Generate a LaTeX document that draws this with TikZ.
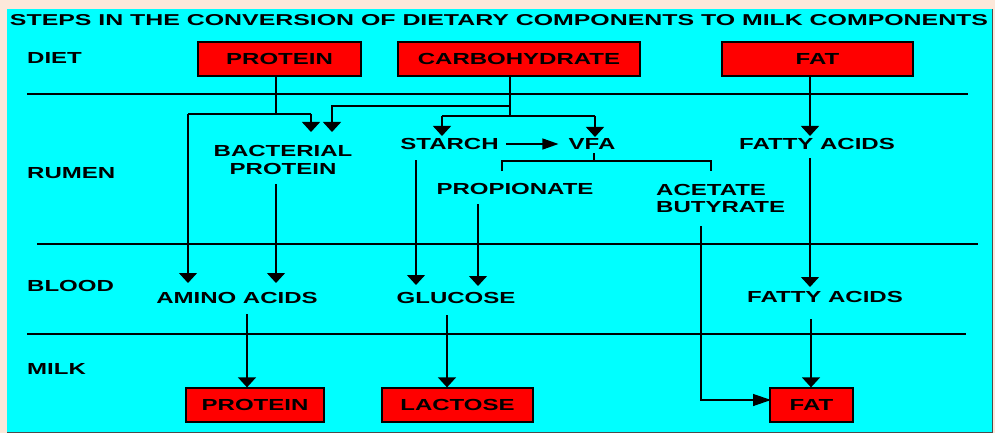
\documentclass[tikz,border=0pt]{standalone}
\usepackage{fontspec}
\setmainfont{Liberation Sans}
\usetikzlibrary{arrows.meta}
\definecolor{bgpeach}{RGB}{252,232,218}
\definecolor{bgcyan}{RGB}{0,255,255}
\definecolor{boxred}{RGB}{255,0,0}
\newcommand\wide[1]{\scalebox{1.5}[1]{#1}}
\begin{document}
\begin{tikzpicture}[x=1pt,y=-1pt,
  lbl/.style={inner sep=0pt, font=\fontsize{16}{17.5}\selectfont\bfseries},
  redbox/.style={lbl, draw=black, line width=1.3pt, fill=boxred, minimum height=34pt},
  conn/.style={line width=1.3pt},
  sepline/.style={line width=1.2pt},
  arr/.style={conn, -{Triangle[width=18pt,length=10pt]}},
  harr/.style={conn, -{Triangle[width=11pt,length=16pt]}},
  farr/.style={conn, -{Triangle[width=12pt,length=18pt]}},
]
\useasboundingbox (0,0) rectangle (995,433);
\fill[bgpeach] (0,0) rectangle (995,433);
\fill[bgcyan] (7,9) rectangle (993,432.5);
\draw[line width=1pt, black!70] (992.5,9) -- (992.5,432.5) -- (7,432.5);

% title
\node[lbl] (title) at (499,20) {\resizebox{978pt}{11pt}{STEPS IN THE CONVERSION OF DIETARY COMPONENTS TO MILK COMPONENTS}};

% section labels
\node[lbl, anchor=west] (diet) at (27,58) {\wide{DIET}};
\node[lbl, anchor=west] (rumen) at (27,173) {\wide{RUMEN}};
\node[lbl, anchor=west] (blood) at (27,286) {\wide{BLOOD}};
\node[lbl, anchor=west] (milk) at (27,369) {\wide{MILK}};

% separators
\draw[sepline] (27,94) -- (968,94);
\draw[sepline] (37,244) -- (978,244);
\draw[sepline] (27,334) -- (966,334);

% diet boxes
\node[redbox, minimum width=163pt] (ptop) at (279.5,59) {\wide{PROTEIN}};
\node[redbox, minimum width=242pt] (carb) at (519,59) {\wide{CARBOHYDRATE}};
\node[redbox, minimum width=191pt] (fat) at (817.5,59) {\wide{FAT}};

% rumen
\node[lbl, anchor=base] (bact) at (283,157) {\wide{\begin{tabular}[t]{@{}c@{}}BACTERIAL\\PROTEIN\end{tabular}}};
\node[lbl] (starch) at (449.5,144) {\wide{STARCH}};
\node[lbl] (vfa) at (592,144) {\wide{VFA}};
\node[lbl] (frumen) at (817,144) {\wide{FATTY ACIDS}};
\node[lbl] (prop) at (515,188.5) {\wide{PROPIONATE}};
\node[lbl, anchor=base west] (acet) at (656,195) {\wide{\begin{tabular}[t]{@{}l@{}}ACETATE\\BUTYRATE\end{tabular}}};

% blood
\node[lbl] (amino) at (237,298) {\wide{AMINO ACIDS}};
\node[lbl] (gluc) at (456,298) {\wide{GLUCOSE}};
\node[lbl] (fblood) at (825,297) {\wide{FATTY ACIDS}};

% milk
\node[redbox, minimum width=138pt] (pbot) at (255,405) {\wide{PROTEIN}};
\node[redbox, minimum width=151pt] (lact) at (457.5,405) {\wide{LACTOSE}};
\node[redbox, minimum width=83pt] (fbot) at (811.5,405) {\wide{FAT}};

% coordinates
\coordinate (pj) at (276,114);
\coordinate (pl) at (188,114);
\coordinate (pr) at (311,114);
\coordinate (tAminoL) at (188,283);
\coordinate (tBactL) at (311,132);
\coordinate (cj) at (510,116);
\coordinate (c2) at (510,106);
\coordinate (c2l) at (332,106);
\coordinate (tBactR) at (332,132);
\coordinate (sl) at (442,116);
\coordinate (vr) at (595,116);
\coordinate (tStarch) at (442,136);
\coordinate (tVfa) at (595,137);
\coordinate (vfaB) at (594,153);
\coordinate (vfaJ) at (594,161);
\coordinate (vl) at (502,161);
\coordinate (vlb) at (502,171);
\coordinate (vr2) at (711,161);
\coordinate (vrb) at (711,171);
\coordinate (fr) at (810,136);
\coordinate (bactB) at (276,184);
\coordinate (tAminoR) at (276,283);
\coordinate (starchB) at (416,160);
\coordinate (tGlucL) at (416,285);
\coordinate (propB) at (478,204);
\coordinate (tGlucR) at (478,286);
\coordinate (frB) at (810,158);
\coordinate (tFblood) at (810,287);
\coordinate (acB) at (701,226);
\coordinate (acC) at (701,400);
\coordinate (tFat) at (771,400);
\coordinate (aminoB) at (247,314);
\coordinate (glucB) at (447,315);
\coordinate (fbB) at (811,319);

% diet -> rumen
\draw[conn] (ptop.south -| pj) -- (pj);
\draw[conn] (pl) -- (pr);
\draw[arr] (pl) -- (tAminoL);
\draw[arr] (pr) -- (tBactL);
\draw[conn] (carb.south -| cj) -- (cj);
\draw[arr] (c2) -- (c2l) -- (tBactR);
\draw[conn] (sl) -- (vr);
\draw[arr] (sl) -- (tStarch);
\draw[arr] (vr) -- (tVfa);
\draw[arr] (fat.south -| fr) -- (fr);

% rumen internal
\draw[harr] ([xshift=7pt]starch.east) -- ([xshift=-10pt]vfa.west);
\draw[conn] (vfaB) -- (vfaJ);
\draw[conn] (vlb) -- (vl) -- (vr2) -- (vrb);

% rumen -> blood
\draw[arr] (bactB) -- (tAminoR);
\draw[arr] (starchB) -- (tGlucL);
\draw[arr] (propB) -- (tGlucR);
\draw[arr] (frB) -- (tFblood);
\draw[farr] (acB) -- (acC) -- (tFat);

% blood -> milk
\draw[arr] (aminoB) -- (pbot.north -| aminoB);
\draw[arr] (glucB) -- (lact.north -| glucB);
\draw[arr] (fbB) -- (fbot.north -| fbB);
\end{tikzpicture}
\end{document}
